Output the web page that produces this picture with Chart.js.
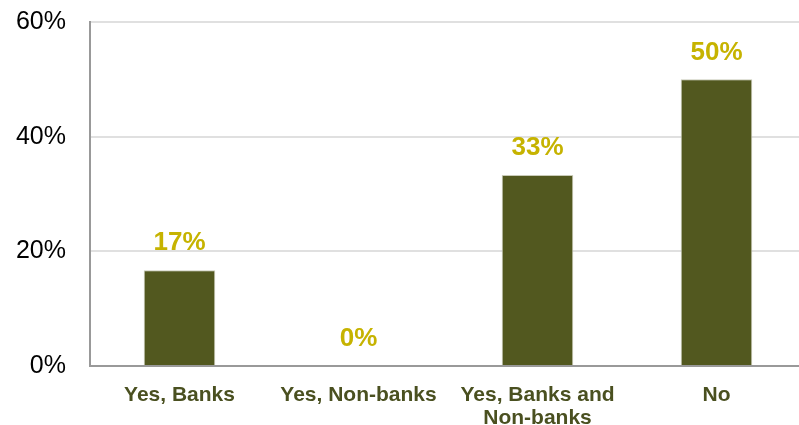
<!DOCTYPE html>
<html>
<head>
<meta charset="utf-8">
<script src="https://cdn.jsdelivr.net/npm/chart.js@4.4.1/dist/chart.umd.min.js"></script>
<style>
  html, body { margin: 0; padding: 0; background: #ffffff; overflow: hidden; }
  #wrap { width: 806px; height: 425px; position: relative; }
</style>
</head>
<body>
<div id="wrap"><canvas id="barChart"></canvas></div>
<script>
// Chart data
const categories = [['Yes, Banks'], ['Yes, Non-banks'], ['Yes, Banks and', 'Non-banks'], ['No']];
const shareValues = [16.7, 0, 33.3, 50];
const yTicks = [0, 20, 40, 60];

// Draws the percentage label above each bar
const valueLabelPlugin = {
    id: 'valueLabels',
    afterDatasetsDraw(chart) {
        const ctx = chart.ctx;
        const meta = chart.getDatasetMeta(0);
        ctx.save();
        ctx.font = 'bold 26px "Liberation Sans", Arial, sans-serif';
        ctx.fillStyle = '#c6b300';
        ctx.textAlign = 'center';
        ctx.textBaseline = 'middle';
        meta.data.forEach((bar, i) => {
            ctx.fillText(Math.round(shareValues[i]) + '%', bar.x, bar.y - 27);
        });
        ctx.restore();
    }
};

new Chart(document.getElementById('barChart').getContext('2d'), {
    type: 'bar',
    data: {
        labels: categories,
        datasets: [{
            data: shareValues,
            backgroundColor: '#52581f',
            borderColor: '#c9cbb8',
            borderWidth: 1,
            categoryPercentage: 1,
            barPercentage: 0.4
        }]
    },
    options: {
        responsive: true,
        maintainAspectRatio: false,
        animation: false,
        layout: { padding: { top: 22, right: 0, left: 0, bottom: 0 } },
        plugins: {
            legend: { display: false },
            tooltip: { enabled: false }
        },
        scales: {
            x: {
                grid: { display: false, drawTicks: false },
                border: { color: '#999999', width: 2 },
                ticks: {
                    color: '#4a5020',
                    font: { family: '"Liberation Sans", Arial, sans-serif', size: 21, weight: 'bold', lineHeight: 1.08 },
                    padding: 18,
                    maxRotation: 0,
                    autoSkip: false
                },
                afterFit(scale) {
                    scale.height = 59;
                    scale.paddingLeft = 0;
                    scale.paddingRight = 0;
                }
            },
            y: {
                min: 0,
                max: 60,
                afterBuildTicks(scale) { scale.ticks = yTicks.map(v => ({ value: v })); },
                grid: { color: '#e0e0e0', lineWidth: 2, drawTicks: false },
                border: { color: '#999999', width: 2 },
                ticks: {
                    color: '#000000',
                    font: { family: '"Liberation Sans", Arial, sans-serif', size: 25 },
                    padding: 24,
                    callback: v => v + '%'
                },
                afterFit(scale) {
                    scale.width = 90;
                    scale.paddingTop = 0;
                    scale.paddingBottom = 0;
                }
            }
        }
    },
    plugins: [valueLabelPlugin]
});
</script>
</body>
</html>
